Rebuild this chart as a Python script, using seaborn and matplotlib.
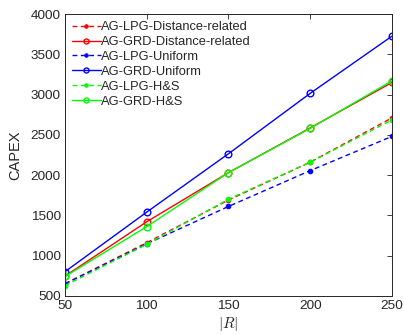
import matplotlib
matplotlib.use("Agg")
import matplotlib.pyplot as plt
import seaborn as sns
import pandas as pd

R = [50, 100, 150, 200, 250]
lpg_dist = [650, 1160, 1690, 2160, 2710]
grd_dist = [745, 1420, 2030, 2585, 3150]
lpg_unif = [650, 1145, 1610, 2055, 2480]
grd_unif = [800, 1540, 2265, 3015, 3725]
lpg_hs = [628, 1140, 1700, 2160, 2685]
grd_hs = [740, 1360, 2030, 2580, 3170]

names = ["AG-LPG-Distance-related", "AG-GRD-Distance-related", "AG-LPG-Uniform",
         "AG-GRD-Uniform", "AG-LPG-H&S", "AG-GRD-H&S"]
series = [lpg_dist, grd_dist, lpg_unif, grd_unif, lpg_hs, grd_hs]
colors = ["#ff0000", "#ff0000", "#0000ff", "#0000ff", "#00ff00", "#00ff00"]

sns.set_style("white")
plt.rcParams['font.family'] = ['Liberation Sans', 'DejaVu Sans']
plt.rcParams['mathtext.fontset'] = 'cm'

fig = plt.figure(figsize=(4.04, 3.35), dpi=100)
ax = fig.add_axes([0.161, 0.117, 0.809, 0.841])

for name, vals, c in zip(names, series, colors):
    df = pd.DataFrame({"R": R, "CAPEX": vals})
    dashed = "LPG" in name
    if dashed:
        sns.lineplot(data=df, x="R", y="CAPEX", ax=ax, color=c, linestyle=(0, (3.5, 2.5)),
                     linewidth=1.0, marker="o", markersize=3.3, markerfacecolor=c,
                     markeredgecolor=c, label=name)
    else:
        sns.lineplot(data=df, x="R", y="CAPEX", ax=ax, color=c, linestyle="-",
                     linewidth=1.0, marker="o", markersize=4.8, markerfacecolor="none",
                     markeredgecolor=c, markeredgewidth=1.0, label=name)

ax.set_xlim(50, 250)
ax.set_ylim(500, 4000)
ax.set_xticks([50, 100, 150, 200, 250])
ax.set_yticks(range(500, 4001, 500))
ax.tick_params(direction="in", top=True, right=True, labelsize=9.7, length=3.5,
               width=0.6, colors="#262626", pad=3)
for s in ax.spines.values():
    s.set_color("#262626")
    s.set_linewidth(0.7)
ax.set_xlabel("$|R|$", fontsize=11, labelpad=2)
ax.set_ylabel("CAPEX", fontsize=10.5, labelpad=6)
leg = ax.legend(loc="upper left", frameon=False, fontsize=9.3, handlelength=2.2,
                handletextpad=0.05, labelspacing=0.22, borderaxespad=0.25,
                borderpad=0.3, markerscale=0.75)
fig.savefig("out.png", dpi=100)
